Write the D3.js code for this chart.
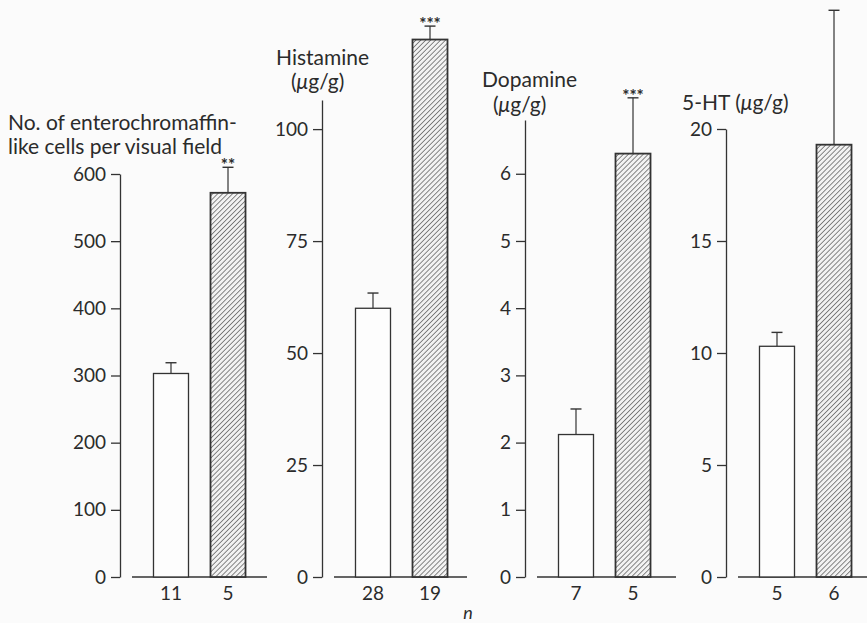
<!DOCTYPE html>
<html>
<head>
<meta charset="utf-8">
<script src="https://cdn.jsdelivr.net/npm/d3@7"></script>
<style>
  body { margin: 0; background: #fbfbfb; }
  svg { display: block; }
  text { font-family: Lato, "Open Sans", sans-serif; fill: #2b2b2b; }
</style>
</head>
<body>
<div class="chart"></div>
<script>
// values
var panelTitles = [
  ["No. of enterochromaffin-", "like cells per visual field"],
  ["Histamine", "(\u03bcg/g)"],
  ["Dopamine", "(\u03bcg/g)"],
  ["5-HT (\u03bcg/g)"]
];
var groups = ["control", "treated"];
var controlMeans = [303, 60, 2.12, 10.3];
var controlSEM = [16, 3.4, 0.38, 0.62];
var treatedMeans = [572, 120, 6.3, 19.3];
var treatedSEM = [38, 3, 0.83, 6.0];
var controlN = [11, 28, 7, 5];
var treatedN = [5, 19, 5, 6];
var stars = ["**", "***", "***", ""];
var yTicks = [
  [0, 100, 200, 300, 400, 500, 600],
  [0, 25, 50, 75, 100],
  [0, 1, 2, 3, 4, 5, 6],
  [0, 5, 10, 15, 20]
];
var yMax = [600, 106.5, 6.8, 20];

var width = 867, height = 623;
var baseY = 577;
var axisX = [120, 322, 525, 726];
var axisTop = [174, 100, 120, 129];
var baseEnd = [267, 467, 676, 867];
var titleX = [[8, 8], [276, 291], [482, 493], [682]];
var titleY = [[123, 147], [58, 82], [80, 105], [103]];

var svg = d3.select('.chart')
  .append('svg')
    .attr('width', width)
    .attr('height', height);

var defs = svg.append('defs');
var pat = defs.append('pattern')
  .attr('id', 'hatch')
  .attr('patternUnits', 'userSpaceOnUse')
  .attr('width', 3.5)
  .attr('height', 3.5)
  .attr('patternTransform', 'rotate(45)');
pat.append('rect').attr('width', 3.5).attr('height', 3.5).attr('fill', '#f2f2f2');
pat.append('line')
  .attr('x1', 0).attr('y1', 0).attr('x2', 0).attr('y2', 3.5)
  .attr('stroke', '#4a4a4a').attr('stroke-width', 1.3);

var ink = '#333';

function muText(sel, str) {
  // the Greek mu is set in italics in the printed figure
  str.split(/(\u03bc)/).forEach(function(part) {
    if (!part) return;
    var t = sel.append('tspan').text(part);
    if (part === '\u03bc') t.style('font-style', 'italic');
  });
}

panelTitles.forEach(function(title, i) {
  var g = svg.append('g');

  var y = d3.scaleLinear()
    .domain([0, yMax[i]])
    .range([baseY, axisTop[i]]);

  var x = d3.scaleBand()
    .domain(groups)
    .range([axisX[i] + 12, axisX[i] + 147])
    .paddingInner(0.386)
    .paddingOuter(0.377);

  // y axis
  var yAxis = d3.axisLeft(y)
    .tickValues(yTicks[i])
    .tickFormat(d3.format('d'))
    .tickSize(9)
    .tickSizeOuter(0)
    .tickPadding(5);

  var ax = g.append('g')
    .attr('transform', `translate(${axisX[i]}, 0)`)
    .call(yAxis);
  ax.select('.domain').attr('stroke', ink).attr('stroke-width', 1.3);
  ax.selectAll('.tick line').attr('stroke', ink).attr('stroke-width', 1.3);
  ax.selectAll('.tick text')
    .attr('fill', '#2b2b2b')
    .style('font-size', '19px')
    .style('font-family', 'Lato, "Open Sans", sans-serif');

  // baseline
  g.append('line')
    .attr('x1', axisX[i] + 12).attr('x2', baseEnd[i])
    .attr('y1', baseY).attr('y2', baseY)
    .attr('stroke', ink).attr('stroke-width', 1.3);

  var means = [controlMeans[i], treatedMeans[i]];
  var sems = [controlSEM[i], treatedSEM[i]];
  var ns = [controlN[i], treatedN[i]];

  groups.forEach(function(grp, j) {
    var cx = x(grp) + x.bandwidth() / 2;
    var top = y(means[j] + sems[j]);

    // error bar (upper only)
    g.append('line')
      .attr('x1', cx).attr('x2', cx)
      .attr('y1', y(means[j])).attr('y2', top)
      .attr('stroke', ink).attr('stroke-width', 1.2);
    g.append('line')
      .attr('x1', cx - 5.5).attr('x2', cx + 5.5)
      .attr('y1', top).attr('y2', top)
      .attr('stroke', ink).attr('stroke-width', 1.4);

    g.append('rect')
      .attr('x', x(grp))
      .attr('y', y(means[j]))
      .attr('width', x.bandwidth())
      .attr('height', baseY - y(means[j]))
      .attr('fill', j === 0 ? '#fdfdfd' : 'url(#hatch)')
      .attr('stroke', ink)
      .attr('stroke-width', j === 0 ? 1.3 : 1.8);

    g.append('text')
      .text(ns[j])
      .attr('x', cx)
      .attr('y', baseY + 23)
      .attr('text-anchor', 'middle')
      .style('font-size', '19px');

    if (j === 1 && stars[i]) {
      g.append('text')
        .text(stars[i])
        .attr('x', cx)
        .attr('y', top + 4)
        .attr('text-anchor', 'middle')
        .style('font-size', '17px')
        .style('font-weight', 'bold');
    }
  });

  title.forEach(function(line, k) {
    var t = g.append('text')
      .attr('x', titleX[i][k])
      .attr('y', titleY[i][k])
      .attr('dy', '0.35em')
      .style('font-size', '21px');
    muText(t, line);
  });
});

svg.append('text')
  .text('n')
  .attr('x', 468)
  .attr('y', 619)
  .attr('text-anchor', 'middle')
  .style('font-size', '18px')
  .style('font-style', 'italic');
</script>
</body>
</html>
